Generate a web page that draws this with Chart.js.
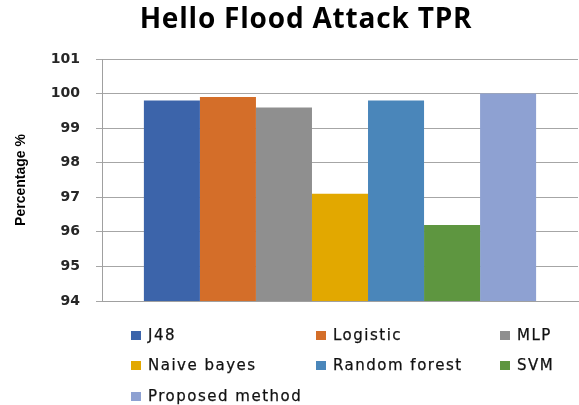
<!DOCTYPE html>
<html>
<head>
<meta charset="utf-8">
<script src="https://cdn.jsdelivr.net/npm/chart.js@4/dist/chart.umd.min.js"></script>
<style>
  html, body { margin: 0; padding: 0; background: #fff; overflow: hidden; }
  #wrap { position: relative; width: 579px; height: 405px; }
  #chart { position: absolute; left: 0; top: 0; }
  #title {
    position: absolute; left: 0; top: 3px; width: 612px; text-align: center;
    font-family: "Open Sans", sans-serif; font-weight: bold; font-size: 28px;
    line-height: 28px; letter-spacing: 0.8px; color: #000;
  }
  .leg {
    position: absolute; display: flex; align-items: center; height: 20px;
    font-family: "DejaVu Sans", sans-serif; font-size: 15px; letter-spacing: 1.5px;
    color: #111; white-space: nowrap; -webkit-text-stroke: 0.25px #111;
  }
  .leg span.box { display: inline-block; width: 10px; height: 9px; margin-right: 7px; }
</style>
</head>
<body>
<div id="wrap">
  <canvas id="chart" width="579" height="405"></canvas>
  <div id="title">Hello Flood Attack TPR</div>
  <div id="legend"></div>
</div>
<script>
const methods = ["J48", "Logistic", "MLP", "Naive bayes", "Random forest", "SVM", "Proposed method"];
const tpr = [99.8, 99.9, 99.6, 97.1, 99.8, 96.2, 100];
const colors = ["#3c64aa", "#d46e29", "#8f8f8f", "#e2a800", "#4a86ba", "#5e9640", "#8ea1d2"];
const yTicks = [94, 95, 96, 97, 98, 99, 100, 101];

const datasets = methods.map((m, i) => ({
  label: m,
  data: [tpr[i]],
  backgroundColor: colors[i],
  borderWidth: 0,
}));

new Chart(document.getElementById("chart").getContext("2d"), {
  type: "bar",
  data: { labels: [""], datasets: datasets },
  options: {
    responsive: false,
    animation: false,
    layout: { padding: { top: 59, bottom: 104, left: 0, right: 1 } },
    datasets: { bar: { categoryPercentage: 0.824, barPercentage: 1 } },
    plugins: {
      legend: { display: false },
      title: { display: false },
      tooltip: { enabled: false },
    },
    scales: {
      x: {
        ticks: { display: false },
        grid: { display: false },
        border: { color: "#a0a0a0", width: 1 },
        afterFit: (s) => { s.height = 0; },
      },
      y: {
        min: yTicks[0],
        max: yTicks[yTicks.length - 1],
        afterBuildTicks: (s) => { s.ticks = yTicks.map((v) => ({ value: v })); },
        ticks: {
          padding: 16,
          color: "#262626",
          font: { family: "DejaVu Sans", size: 14, weight: "bold" },
        },
        grid: { color: "#a6a6a6", tickLength: 6, lineWidth: 1 },
        border: { color: "#a0a0a0", width: 1 },
        title: {
          display: true,
          text: "Percentage %",
          color: "#000",
          padding: { top: 13, bottom: 0 },
          font: { family: "Liberation Sans", size: 14, weight: "bold" },
        },
        afterFit: (s) => { s.width = 102; },
      },
    },
  },
});

// legend in three columns under the plot
const legCols = [131, 316, 500];
const legRows = [325, 355, 386];
const legendEl = document.getElementById("legend");
methods.forEach((m, i) => {
  const d = document.createElement("div");
  d.className = "leg";
  d.style.left = legCols[i % 3] + "px";
  d.style.top = legRows[Math.floor(i / 3)] + "px";
  d.innerHTML = '<span class="box" style="background:' + colors[i] + '"></span>' + m;
  legendEl.appendChild(d);
});
</script>
</body>
</html>
